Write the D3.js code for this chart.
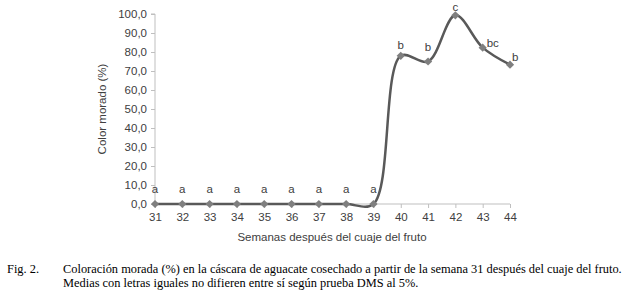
<!DOCTYPE html>
<html>
<head>
<meta charset="utf-8">
<script src="https://cdn.jsdelivr.net/npm/d3@7"></script>
<style>
  html, body { margin: 0; padding: 0; background: #fff; }
  svg { display: block; }
</style>
</head>
<body>
<div id="chart"></div>
<script>
// semanas despues del cuaje y % de color morado
const weeks = [31, 32, 33, 34, 35, 36, 37, 38, 39, 40, 41, 42, 43, 44];
const purple = [0, 0, 0, 0, 0, 0, 0, 0, 0, 78, 75, 99.3, 82.3, 73.3];
const letters = ["a", "a", "a", "a", "a", "a", "a", "a", "a", "b", "b", "c", "bc", "b"];
const yTicks = [0, 10, 20, 30, 40, 50, 60, 70, 80, 90, 100];
const caption = [
  "Coloración morada (%) en la cáscara de aguacate cosechado a partir de la semana 31 después del cuaje del fruto.",
  "Medias con letras iguales no difieren entre sí según prueba DMS al 5%.",
];

const W = 640, H = 297;
const pLeft = 155, pRight = 510, pTop = 14, pBottom = 204;
const sans = "'Liberation Sans', Arial, sans-serif";
const serif = "'Liberation Serif', 'Times New Roman', serif";

const svg = d3.select("#chart").append("svg").attr("width", W).attr("height", H);

const x = d3.scaleLinear().domain([31, 44]).range([pLeft, pRight]);
const y = d3.scaleLinear().domain([0, 100]).range([pBottom, pTop]);

// eje y
const gy = svg.append("g").attr("transform", `translate(${pLeft},0)`)
  .call(d3.axisLeft(y).tickValues(yTicks).tickSize(4).tickPadding(4)
    .tickFormat((d) => d.toFixed(1).replace(".", ",")));
gy.select(".domain").attr("stroke", "#bfbfbf").attr("d", `M-4,${pTop}H0V${pBottom}`);
gy.selectAll("line").attr("stroke", "#bfbfbf");
gy.selectAll("text").attr("fill", "#404040").style("font", `11.5px ${sans}`);

// eje x
const gx = svg.append("g").attr("transform", `translate(0,${pBottom})`)
  .call(d3.axisBottom(x).tickValues(weeks).tickSize(4).tickPadding(5).tickFormat(d3.format("d")));
gx.select(".domain").attr("stroke", "#bfbfbf").attr("d", `M${pLeft},0H${pRight}`);
gx.selectAll("line").attr("stroke", "#bfbfbf");
gx.selectAll("text").attr("fill", "#404040").style("font", `11.5px ${sans}`);

svg.append("text")
  .attr("x", 332).attr("y", 241)
  .attr("text-anchor", "middle")
  .attr("fill", "#404040")
  .style("font", `11.5px ${sans}`)
  .text("Semanas después del cuaje del fruto");

svg.append("text")
  .attr("transform", `translate(106,${(pTop + pBottom) / 2}) rotate(-90)`)
  .attr("text-anchor", "middle")
  .attr("fill", "#404040")
  .style("font", `11.5px ${sans}`)
  .text("Color morado (%)");

const pts = weeks.map((w, i) => ({ w, v: purple[i], l: letters[i] }));

const line = d3.line()
  .x((d) => x(d.w))
  .y((d) => y(d.v))
  .curve(d3.curveCatmullRom.alpha(0.5));

svg.append("path")
  .datum(pts)
  .attr("d", line)
  .attr("fill", "none")
  .attr("stroke", "#595959")
  .attr("stroke-width", 2.5);

// marcadores en rombo
svg.append("g").selectAll("path")
  .data(pts)
  .join("path")
  .attr("d", d3.symbol(d3.symbolSquare, 34))
  .attr("transform", (d) => `translate(${x(d.w)},${y(d.v)}) rotate(45)`)
  .attr("fill", "#7f7f7f");

// letras de significancia (desplazamiento segun la etiqueta de excel)
const labelOffset = (d) => {
  if (d.w === 40) return [0, -7, "middle"];
  if (d.w === 42) return [0, -4, "middle"];
  if (d.w === 43) return [4, -1, "start"];
  if (d.w === 44) return [2, -3.5, "start"];
  return [0, -11, "middle"];
};
svg.append("g").selectAll("text")
  .data(pts)
  .join("text")
  .attr("x", (d) => x(d.w) + labelOffset(d)[0])
  .attr("y", (d) => y(d.v) + labelOffset(d)[1])
  .attr("text-anchor", (d) => labelOffset(d)[2])
  .attr("fill", "#404040")
  .style("font", `11.5px ${sans}`)
  .text((d) => d.l);

// pie de figura
svg.append("text")
  .attr("x", 7).attr("y", 273)
  .style("font", `12.4px ${serif}`)
  .text("Fig. 2.");
svg.append("g").selectAll("text")
  .data(caption)
  .join("text")
  .attr("x", 63)
  .attr("y", (d, i) => 273 + i * 14.3)
  .style("font", `12.4px ${serif}`)
  .text((d) => d);
</script>
</body>
</html>
